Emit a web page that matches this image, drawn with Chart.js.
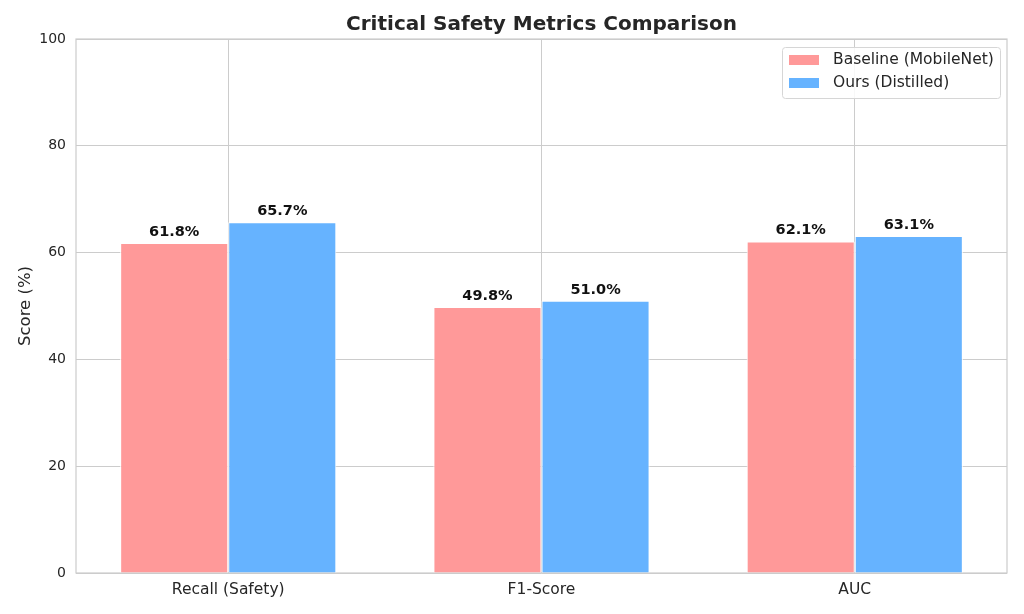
<!DOCTYPE html>
<html>
<head>
<meta charset="utf-8">
<script src="https://cdn.jsdelivr.net/npm/chart.js@4.4.1/dist/chart.umd.min.js"></script>
<style>
  html, body { margin: 0; padding: 0; background: #fff; }
  #wrap { width: 1024px; height: 614px; }
</style>
</head>
<body>
<div id="wrap"><canvas id="chart"></canvas></div>
<script>
// データ
const categories = ['Recall (Safety)', 'F1-Score', 'AUC'];
const baselineScores = [61.8, 49.8, 62.1];
const oursScores = [65.7, 51.0, 63.1];
const seriesNames = ['Baseline (MobileNet)', 'Ours (Distilled)'];
const yTicks = [0, 20, 40, 60, 80, 100];

const FONT = 'DejaVu Sans';
const TEXT = '#262626';
const GRID = '#cccccc';

// 値ラベル
const valueLabels = {
  id: 'valueLabels',
  afterDatasetsDraw(chart) {
    const ctx = chart.ctx;
    ctx.save();
    ctx.font = 'bold 14.5px "' + FONT + '"';
    ctx.fillStyle = '#111';
    ctx.textAlign = 'center';
    ctx.textBaseline = 'alphabetic';
    chart.data.datasets.forEach((ds, i) => {
      chart.getDatasetMeta(i).data.forEach((bar, j) => {
        ctx.fillText(ds.data[j].y.toFixed(1) + '%', bar.x, bar.y - 7);
      });
    });
    ctx.restore();
  }
};

// 枠線
const frame = {
  id: 'frame',
  beforeDatasetsDraw(chart) {
    const a = chart.chartArea, ctx = chart.ctx;
    ctx.save();
    ctx.strokeStyle = GRID;
    ctx.lineWidth = 1.2;
    ctx.strokeRect(a.left, a.top, a.right - a.left, a.bottom - a.top);
    ctx.restore();
  }
};

// 凡例（右上、プロット内）
const innerLegend = {
  id: 'innerLegend',
  afterDraw(chart) {
    const ctx = chart.ctx;
    const x = 782, y = 47, w = 218, h = 51;
    ctx.save();
    ctx.fillStyle = 'rgba(255,255,255,0.85)';
    ctx.strokeStyle = '#d6d6d6';
    ctx.lineWidth = 1;
    ctx.beginPath();
    ctx.roundRect(x + 0.5, y + 0.5, w, h, 3);
    ctx.fill();
    ctx.stroke();
    ctx.font = '15.5px "' + FONT + '"';
    ctx.textBaseline = 'middle';
    chart.data.datasets.forEach((ds, i) => {
      const cy = y + 13 + i * 23;
      ctx.fillStyle = ds.backgroundColor;
      ctx.fillRect(x + 7, cy - 5, 30, 10);
      ctx.fillStyle = TEXT;
      ctx.fillText(ds.label, x + 51, cy);
    });
    ctx.restore();
  }
};

const toPoints = vals => vals.map((v, i) => ({ x: i, y: v }));

new Chart(document.getElementById('chart'), {
  type: 'bar',
  data: {
    datasets: [
      { label: seriesNames[0], data: toPoints(baselineScores), backgroundColor: '#ff9999', borderColor: '#ffffff', borderWidth: 1 },
      { label: seriesNames[1], data: toPoints(oursScores), backgroundColor: '#66b3ff', borderColor: '#ffffff', borderWidth: 1 }
    ]
  },
  options: {
    responsive: true,
    maintainAspectRatio: false,
    animation: false,
    layout: { padding: { right: 17 } },
    datasets: { bar: { categoryPercentage: 0.69, barPercentage: 1.0 } },
    plugins: {
      legend: { display: false },
      tooltip: { enabled: false },
      title: {
        display: true,
        text: 'Critical Safety Metrics Comparison',
        fullSize: false,
        color: TEXT,
        font: { family: FONT, size: 20, weight: 'bold' },
        padding: { top: 13, bottom: 2 }
      }
    },
    scales: {
      x: {
        type: 'linear',
        min: -0.486,
        max: 2.486,
        offset: false,
        afterBuildTicks(s) { s.ticks = categories.map((c, i) => ({ value: i })); },
        grid: { color: GRID, lineWidth: 1, offset: false, drawTicks: false },
        border: { display: false },
        ticks: {
          color: TEXT,
          font: { family: FONT, size: 15.5 },
          padding: 8,
          callback: v => categories[v]
        },
        afterFit(s) { s.height = 41; }
      },
      y: {
        min: 0,
        max: 100,
        afterBuildTicks(s) { s.ticks = yTicks.map(v => ({ value: v })); },
        grid: { color: GRID, lineWidth: 1, drawTicks: false },
        border: { display: false },
        ticks: { color: TEXT, font: { family: FONT, size: 14 }, padding: 10 },
        title: { display: true, text: 'Score (%)', color: TEXT, font: { family: FONT, size: 16.5 }, padding: { top: 16, bottom: 0 } },
        afterFit(s) { s.width = 76; }
      }
    }
  },
  plugins: [frame, valueLabels, innerLegend]
});
</script>
</body>
</html>
